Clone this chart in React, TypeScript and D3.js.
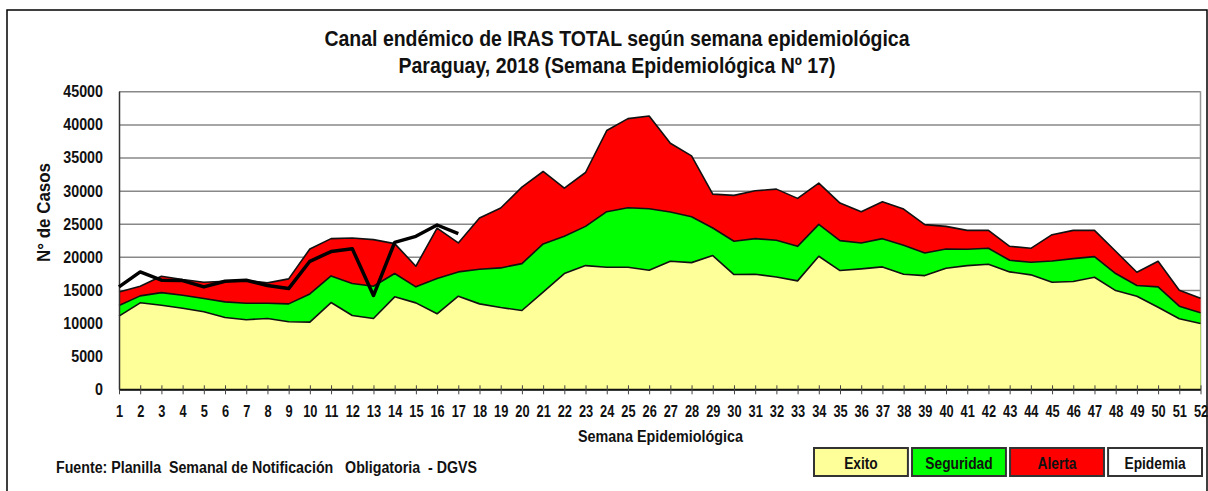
import React, { useRef, useEffect } from "react";
import * as d3 from "d3";

const semanas = [
  1, 2, 3, 4, 5, 6, 7, 8, 9, 10, 11, 12, 13, 14, 15, 16, 17, 18, 19, 20, 21, 22, 23, 24, 25, 26,
  27, 28, 29, 30, 31, 32, 33, 34, 35, 36, 37, 38, 39, 40, 41, 42, 43, 44, 45, 46, 47, 48, 49, 50,
  51, 52,
];

// zona de exito (limite inferior del canal)
const exito = [
  11040, 13060, 12700, 12250, 11700, 10850, 10500, 10700, 10200, 10150, 13100, 11150, 10700, 13960,
  13050, 11400, 14060, 12900, 12350, 11900, 14660, 17480, 18680, 18430, 18430, 17980, 19330, 19130,
  20190, 17330, 17380, 16950, 16370, 20090, 17930, 18180, 18480, 17380, 17170, 18280, 18680, 18880,
  17730, 17280, 16170, 16270, 16920, 14910, 14060, 12400, 10650, 9940,
];

// mediana
const seguridad = [
  12650, 14110, 14600, 14200, 13700, 13200, 13000, 13000, 12900, 14400, 17120, 15970, 15570, 17480,
  15470, 16720, 17730, 18120, 18330, 18980, 21950, 23100, 24600, 26820, 27420, 27270, 26770, 26060,
  24350, 22350, 22750, 22500, 21590, 24910, 22450, 22100, 22750, 21740, 20590, 21190, 21140, 21290,
  19480, 19180, 19380, 19730, 20040, 17480, 15670, 15470, 12550, 11550,
];

// limite superior
const alerta = [
  14700, 15570, 17070, 16570, 16170, 16320, 16470, 16070, 16670, 21190, 22750, 22850, 22600, 22000,
  18580, 24350, 22100, 25860, 27370, 30530, 32890, 30380, 32740, 39070, 40870, 41280, 37160, 35250,
  29480, 29280, 29980, 30230, 28830, 31140, 28120, 26820, 28320, 27220, 24860, 24600, 24000, 24000,
  21590, 21290, 23350, 24000, 24000, 20840, 17680, 19330, 14960, 13760,
];

// casos notificados 2018 (hasta SE 17)
const casos2018 = [
  15470, 17730, 16470, 16420, 15470, 16320, 16470, 15670, 15210, 19330, 20800, 21240, 14160, 22190,
  23100, 24810, 23500,
];

const yTicks = [0, 5000, 10000, 15000, 20000, 25000, 30000, 35000, 40000, 45000];

const leyenda = [
  { label: "Exito", color: "#FFFF99" },
  { label: "Seguridad", color: "#00FF00" },
  { label: "Alerta", color: "#FF0000" },
  { label: "Epidemia", color: "#FFFFFF" },
];

const FONT = '"Liberation Sans Narrow", "Arial Narrow", "Liberation Sans", Arial, sans-serif';

// el original usa Arial Narrow: se comprime el texto al 82% del ancho
function angostar(sel: d3.Selection<any, any, any, any>, factor = 0.82) {
  sel.each(function () {
    const el = this as SVGTextElement;
    const w = el.getComputedTextLength();
    if (w > 0) {
      el.setAttribute("textLength", String(w * factor));
      el.setAttribute("lengthAdjust", "spacingAndGlyphs");
    }
  });
}

function App() {
  const svgRef = useRef<SVGSVGElement | null>(null);

  useEffect(() => {
    const width = 1208;
    const height = 491;
    const margin = { top: 91.3, right: 7, bottom: 101, left: 119 };
    const innerWidth = width - margin.left - margin.right - 0.5;
    const innerHeight = height - margin.top - margin.bottom - 0.7;

    const svg = d3.select(svgRef.current);
    svg.selectAll("*").remove();
    svg.attr("width", width).attr("height", height);

    svg.append("rect").attr("width", width).attr("height", height).attr("fill", "#fff");

    // marco exterior
    svg
      .append("rect")
      .attr("x", 7)
      .attr("y", 10)
      .attr("width", 1200)
      .attr("height", 500)
      .attr("fill", "none")
      .attr("stroke", "#000")
      .attr("stroke-width", 1.5);

    const x = d3.scaleLinear().domain([1, 52]).range([0, innerWidth]);
    const y = d3.scaleLinear().domain([0, 45000]).range([innerHeight, 0]);

    const g = svg.append("g").attr("transform", `translate(${margin.left},${margin.top})`);

    // grilla
    const grid = g
      .append("g")
      .call(d3.axisLeft(y).tickValues(yTicks).tickSize(-innerWidth).tickFormat(() => ""));
    grid.select(".domain").remove();
    grid.selectAll("line").attr("stroke", "#888").attr("stroke-width", 1.5);

    g.append("line")
      .attr("x1", innerWidth)
      .attr("x2", innerWidth)
      .attr("y1", 0)
      .attr("y2", innerHeight)
      .attr("stroke", "#999")
      .attr("stroke-width", 1.5);

    const zonas = [
      { values: alerta, color: "#FF0000" },
      { values: seguridad, color: "#00FF00" },
      { values: exito, color: "#FFFF99" },
    ];

    zonas.forEach(({ values, color }) => {
      const area = d3
        .area<number>()
        .x((_, i) => x(semanas[i]))
        .y0(y(0))
        .y1((d) => y(d));
      g.append("path").datum(values).attr("d", area).attr("fill", color);
    });

    zonas.forEach(({ values }) => {
      const line = d3
        .line<number>()
        .x((_, i) => x(semanas[i]))
        .y((d) => y(d));
      g.append("path")
        .datum(values)
        .attr("d", line)
        .attr("fill", "none")
        .attr("stroke", "#111")
        .attr("stroke-width", 1.6)
        .attr("stroke-linejoin", "round");
    });

    // ejes
    const xAxis = g
      .append("g")
      .attr("transform", `translate(0,${innerHeight})`)
      .call(
        d3
          .axisBottom(x)
          .tickValues(semanas)
          .tickFormat(d3.format("d"))
          .tickSizeOuter(0)
          .tickSizeInner(5)
          .tickPadding(11)
      );
    xAxis.select(".domain").attr("stroke", "#111").attr("stroke-width", 2);
    xAxis.selectAll(".tick line").attr("y1", -4).attr("y2", 5).attr("stroke", "#444").attr("stroke-width", 1);
    const xLabels = xAxis
      .selectAll("text")
      .attr("font-family", FONT)
      .attr("font-size", 16)
      .attr("font-weight", "bold")
      .attr("fill", "#111");
    angostar(xLabels, 0.8);

    const yAxis = g
      .append("g")
      .call(d3.axisLeft(y).tickValues(yTicks).tickSize(0).tickPadding(16).tickFormat(d3.format("d")));
    yAxis.select(".domain").attr("stroke", "#333").attr("stroke-width", 1.5);
    const yLabels = yAxis
      .selectAll("text")
      .attr("font-family", FONT)
      .attr("font-size", 17)
      .attr("font-weight", "bold")
      .attr("fill", "#111");
    angostar(yLabels, 0.84);

    // serie 2018
    const linea2018 = d3
      .line<number>()
      .x((_, i) => x(semanas[i]))
      .y((d) => y(d));
    g.append("path")
      .datum(casos2018)
      .attr("d", linea2018)
      .attr("fill", "none")
      .attr("stroke", "#000")
      .attr("stroke-width", 3.5)
      .attr("stroke-linejoin", "round");

    const texto = (
      t: string,
      px: number,
      py: number,
      size: number,
      len: number,
      anchor = "middle"
    ) =>
      svg
        .append("text")
        .attr("x", px)
        .attr("y", py)
        .attr("text-anchor", anchor)
        .attr("font-family", FONT)
        .attr("font-size", size)
        .attr("font-weight", "bold")
        .attr("fill", "#111")
        .attr("textLength", len)
        .attr("lengthAdjust", "spacingAndGlyphs")
        .text(t);

    texto("Canal endémico de IRAS TOTAL según semana epidemiológica", 617, 46, 22, 585);
    texto("Paraguay, 2018 (Semana Epidemiológica Nº 17)", 617, 73, 22, 437);
    texto("Semana Epidemiológica", 660.5, 442, 16, 165);
    texto(
      "Fuente: Planilla  Semanal de Notificación   Obligatoria  - DGVS",
      56,
      473,
      16,
      421,
      "start"
    )
      .attr("xml:space", "preserve")
      .style("white-space", "pre");

    svg
      .append("text")
      .attr("transform", "translate(50,212.5) rotate(-90)")
      .attr("text-anchor", "middle")
      .attr("font-family", FONT)
      .attr("font-size", 18)
      .attr("font-weight", "bold")
      .attr("fill", "#111")
      .attr("textLength", 99)
      .attr("lengthAdjust", "spacingAndGlyphs")
      .text("N° de Casos");

    // leyenda
    const cajaX = d3
      .scaleBand<string>()
      .domain(leyenda.map((d) => d.label))
      .range([814, 1202])
      .paddingInner(0.042);
    const leg = svg
      .append("g")
      .selectAll("g")
      .data(leyenda)
      .enter()
      .append("g")
      .attr("transform", (d) => `translate(${cajaX(d.label)},448)`);
    leg
      .append("rect")
      .attr("width", cajaX.bandwidth())
      .attr("height", 28)
      .attr("fill", (d) => d.color)
      .attr("stroke", "#333")
      .attr("stroke-width", 2);
    const legText = leg
      .append("text")
      .attr("x", cajaX.bandwidth() / 2)
      .attr("y", 20.5)
      .attr("text-anchor", "middle")
      .attr("font-family", FONT)
      .attr("font-size", 16)
      .attr("font-weight", "bold")
      .attr("fill", "#111")
      .text((d) => d.label);
    angostar(legText, 0.86);
  }, []);

  return <svg ref={svgRef} style={{ position: "absolute", left: 0, top: 0 }}></svg>;
}

export default App;
